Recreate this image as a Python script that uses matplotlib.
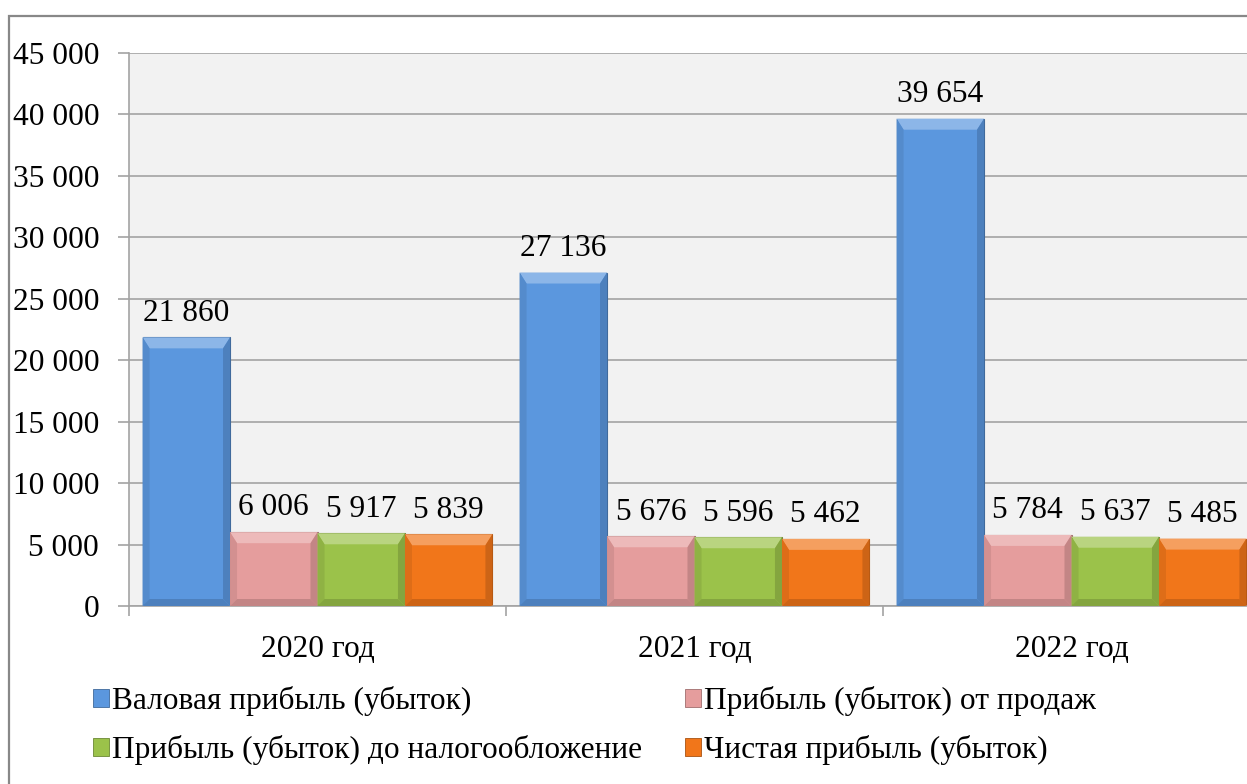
import numpy as np
import matplotlib
matplotlib.use("Agg")
import matplotlib.pyplot as plt
from matplotlib.patches import Polygon, Rectangle
from matplotlib.colors import to_rgb

FONT = ["Liberation Serif", "DejaVu Serif"]
plt.rcParams["font.family"] = FONT

# данные, тыс. руб.
years = ["2020 год", "2021 год", "2022 год"]
series = ["Валовая прибыль (убыток)", "Прибыль (убыток) от продаж",
          "Прибыль (убыток) до налогообложение", "Чистая прибыль (убыток)"]
gross = [21860, 27136, 39654]
sales = [6006, 5676, 5784]
pretax = [5917, 5596, 5637]
net = [5839, 5462, 5485]
values = [gross, sales, pretax, net]
colors = ["#5b97de", "#e59d9d", "#9bc24a", "#f1761a"]

W, H = 1247, 784
FS = 22.6
GRID = "#a3a3a3"


def mix(c, other, t):
    c = np.array(to_rgb(c)); o = np.array(to_rgb(other))
    return tuple(c * (1 - t) + o * t)


def fmt(v):
    return f"{v:,}".replace(",", " ")


fig = plt.figure(figsize=(W / 100, H / 100), dpi=100)
ax = fig.add_axes([129 / W, (H - 606) / H, 1131 / W, 553 / H])
ax.set_facecolor("#f2f2f2")
ax.set_xlim(0, 3)
ax.set_ylim(0, 45000)
ax.set_yticks(np.arange(0, 45001, 5000))
ax.set_yticklabels([fmt(int(v)) for v in np.arange(0, 45001, 5000)], fontsize=FS, family=FONT)
ax.yaxis.grid(True, color=GRID, lw=1.2)
ax.set_axisbelow(True)
ax.tick_params(axis="y", length=8, width=1.2, color=GRID, pad=13.5)

ax.set_xticks([0.5, 1.5, 2.5])
ax.set_xticklabels(years, fontsize=FS, family=FONT)
ax.set_xticks([0, 1, 2, 3], minor=True)
ax.tick_params(axis="x", which="major", length=0, pad=21)
ax.tick_params(axis="x", which="minor", length=7, width=1.2, color=GRID)
for s in ["top", "right"]:
    ax.spines[s].set_visible(False)
for s in ["left", "bottom"]:
    ax.spines[s].set_color(GRID)
    ax.spines[s].set_linewidth(1.2)

w = 0.232
xc = np.arange(3) + 0.5
px_x = 3 / 1131          # data units per pixel
px_y = 45000 / 553
bx, bt, bb = 7 * px_x, 11 * px_y, 7 * px_y

for k, (vals, c) in enumerate(zip(values, colors)):
    xs = xc + (k - 1.5) * w
    bars = ax.bar(xs, vals, width=w, color=c, edgecolor=mix(c, "black", 0.3), linewidth=0.8, zorder=2)
    for r, v in zip(bars, vals):
        x0, x1 = r.get_x(), r.get_x() + r.get_width()
        y0, y1 = 0, v
        # фаска по краям столбика
        ax.add_patch(Polygon([(x0, y1), (x1, y1), (x1 - bx, y1 - bt), (x0 + bx, y1 - bt)],
                             closed=True, fc=mix(c, "white", 0.3), ec="none", zorder=3))
        ax.add_patch(Polygon([(x0, y0), (x0, y1), (x0 + bx, y1 - bt), (x0 + bx, y0 + bb)],
                             closed=True, fc=mix(c, "black", 0.08), ec="none", zorder=3))
        ax.add_patch(Polygon([(x1, y0), (x1, y1), (x1 - bx, y1 - bt), (x1 - bx, y0 + bb)],
                             closed=True, fc=mix(c, "black", 0.15), ec="none", zorder=3))
        ax.add_patch(Polygon([(x0, y0), (x1, y0), (x1 - bx, y0 + bb), (x0 + bx, y0 + bb)],
                             closed=True, fc=mix(c, "black", 0.15), ec="none", zorder=3))
        ax.annotate(fmt(v), (r.get_x() + r.get_width() / 2, v), xytext=(0, 7),
                    textcoords="offset points", ha="center", va="bottom",
                    fontsize=FS, family=FONT, zorder=4)

handles = [Rectangle((0, 0), 1, 1, fc=c, ec=mix(c, "black", 0.3), lw=0.6) for c in colors]
leg_kw = dict(loc="upper left", frameon=False, prop={"family": FONT, "size": FS},
              borderpad=0, borderaxespad=0, handlelength=0.52, handleheight=0.52,
              handletextpad=0.1, labelspacing=0.61)
fig.legend([handles[0], handles[2]], [series[0], series[2]],
           bbox_to_anchor=(93 / W, 1 - 686 / H), **leg_kw)
fig.legend([handles[1], handles[3]], [series[1], series[3]],
           bbox_to_anchor=(685 / W, 1 - 686 / H), **leg_kw)

fig.add_artist(Rectangle((9 / W, -0.1), 2, 1 - 16 / H + 0.1, transform=fig.transFigure,
                         fill=False, edgecolor="#888888", lw=1.6))

fig.savefig("out.png", dpi=100)
